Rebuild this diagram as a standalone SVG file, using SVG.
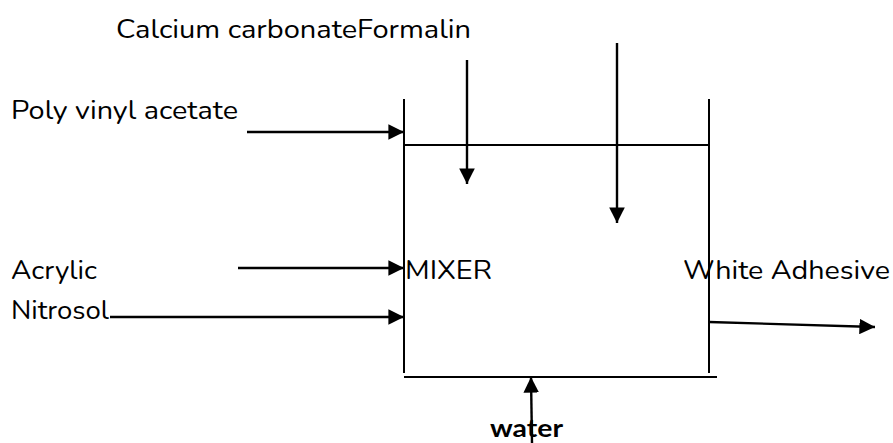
<svg xmlns="http://www.w3.org/2000/svg" width="893" height="443" viewBox="0 0 893 443">
<style>
.t{font-family:"Nunito","Lato","Noto Sans",sans-serif;font-size:25px;fill:#000}
.w{font-family:"Lato","Noto Sans",sans-serif;font-size:24px;font-weight:bold;fill:#000}
.l{stroke:#000;stroke-width:2;fill:none}
.a{stroke:#000;stroke-width:2.4;fill:none;marker-end:url(#ah)}
</style>
<defs>
<marker id="ah" viewBox="0 0 10 10" refX="10" refY="5" markerWidth="6.5" markerHeight="6.5" orient="auto" markerUnits="strokeWidth">
<path d="M0,0 L10,5 L0,10 Z" fill="#000"/>
</marker>
</defs>
<rect width="893" height="443" fill="#fff"/>
<g id="mixer">
<line class="l" x1="404" y1="99" x2="404" y2="373"/>
<line class="l" x1="709" y1="99" x2="709" y2="373"/>
<line class="l" x1="404" y1="145" x2="709" y2="145"/>
<line class="l" x1="404" y1="377" x2="717" y2="377"/>
<text class="t" x="405" y="279" textLength="87" lengthAdjust="spacingAndGlyphs">MIXER</text>
</g>
<g id="labels">
<text class="t" x="116" y="38" textLength="355" lengthAdjust="spacingAndGlyphs">Calcium carbonateFormalin</text>
<text class="t" x="11" y="119" textLength="227" lengthAdjust="spacingAndGlyphs">Poly vinyl acetate</text>
<text class="t" x="11" y="279" textLength="86" lengthAdjust="spacingAndGlyphs">Acrylic</text>
<text class="t" x="11" y="319" textLength="98" lengthAdjust="spacingAndGlyphs">Nitrosol</text>
<text class="t" x="683" y="279" textLength="207" lengthAdjust="spacingAndGlyphs">White Adhesive</text>
<text class="w" x="490" y="437" textLength="73" lengthAdjust="spacingAndGlyphs">water</text>
</g>
<g id="connectors">
<line class="a" x1="247" y1="132" x2="404" y2="132"/>
<line class="a" x1="238" y1="268" x2="404" y2="268"/>
<line class="a" x1="110" y1="317" x2="404" y2="317"/>
<line class="a" x1="467" y1="60" x2="467" y2="184"/>
<line class="a" x1="617" y1="43" x2="617" y2="223"/>
<line class="a" x1="709" y1="322" x2="875" y2="327"/>
<line class="a" x1="532" y1="443" x2="531" y2="377"/>
</g>
</svg>
